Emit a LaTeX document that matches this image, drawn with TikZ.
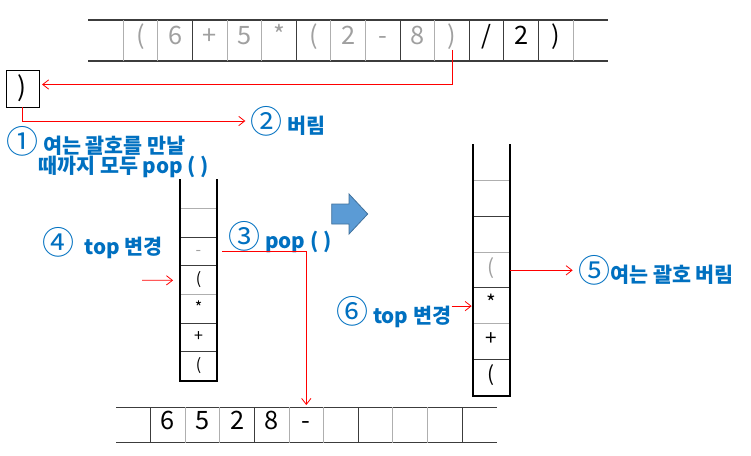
\documentclass[tikz,border=0pt]{standalone}
\usepackage{fontspec}
\setmainfont{Noto Sans CJK KR}
\usetikzlibrary{arrows.meta,positioning}
\definecolor{lblblue}{RGB}{0,112,192}
\definecolor{arrblue}{RGB}{91,155,213}
\definecolor{arredge}{RGB}{65,113,156}
\definecolor{usedtxt}{RGB}{160,160,160}
\definecolor{lgrid}{RGB}{175,175,175}
\definecolor{dgrid}{RGB}{60,60,60}
\newcommand{\cnum}[1]{{\mdseries\fontsize{24}{24}\selectfont #1}}

\begin{document}
\begin{tikzpicture}[x=0.75pt,y=-0.75pt]
  \tikzstyle{lbl}=[anchor=west,inner sep=0pt,text=lblblue,font=\bfseries\fontsize{15.5}{18}\selectfont]
  \tikzstyle{cell}=[minimum width=25.95pt,minimum height=30.75pt,inner sep=0pt,text height=0.72em,text depth=0.12em,font=\fontsize{19}{19}\selectfont]
  \tikzstyle{bcell}=[minimum width=25.95pt,minimum height=26.55pt,inner sep=0pt,text height=0.72em,text depth=0.12em,font=\fontsize{19}{19}\selectfont]
  \tikzstyle{lcell}=[minimum width=27.75pt,minimum height=21.5pt,inner sep=0pt,text height=0.72em,text depth=0.12em,font=\fontsize{12}{12}\selectfont]
  \tikzstyle{rcell}=[minimum width=27pt,minimum height=26.85pt,inner sep=0pt,text height=0.72em,text depth=0.12em,font=\fontsize{15.5}{15.5}\selectfont]
  \tikzstyle{redln}=[draw=red,line width=0.6pt]
  \tikzstyle{redarr}=[redln,-{Straight Barb[length=4.5pt,width=7pt]}]
  \tikzstyle{wall}=[line width=1.5pt,line cap=rect]
  \useasboundingbox (0,0) rectangle (751,455);

  % input expression
  \draw[dgrid,line width=0.8pt] (88,20) -- (608,20) (88,61) -- (608,61);
  \foreach \i/\gc in {0/lgrid,1/lgrid,2/dgrid,3/lgrid,4/lgrid,5/dgrid,6/lgrid,7/lgrid,8/dgrid,9/lgrid,10/dgrid,11/dgrid,12/dgrid,13/lgrid}
    \draw[\gc,line width=0.8pt] ({123.3+34.6*\i},20) -- ({123.3+34.6*\i},61);
  \foreach \c/\tc [count=\i from 0] in {{(}/usedtxt,6/usedtxt,+/usedtxt,5/usedtxt,*/usedtxt,{(}/usedtxt,2/usedtxt,-/usedtxt,8/usedtxt,{)}/usedtxt,{/}/black,2/black,{)}/black}
    \node[cell,text=\tc] (t\i) at ({140.6+34.6*\i},40.5) {\c};

  % the closing paren taken out
  \node[draw=black,line width=0.6pt,minimum width=24.75pt,minimum height=27.75pt,inner sep=0pt,font=\fontsize{20}{20}\selectfont] (pbox) at (22.5,88.5) {)};
  \draw[redarr,shorten >=2pt] ([yshift=-7pt]t9.center) |- ([yshift=3pt]pbox.east);

  \node[lbl] (lbl2) at (250,121) {\cnum{②} 버림};
  \draw[redarr,shorten >=3.5pt] (pbox.south) |- (lbl2.west);
  \node[lbl] (lbl1) at (6,141) {\cnum{①} 여는 괄호를 만날};
  \node[lbl] (lbl1b) at (38,167) {때까지 모두 pop ( )};

  % left stack
  \foreach \c/\tc [count=\k from 0] in {{}/black,{}/black,-/usedtxt,{(}/black,*/black,+/black,{(}/black}
    \node[lcell,text=\tc] (l\k) at (198.5,{180+28.67*(\k+0.5)}) {\c};
  \foreach \k/\gc in {1/lgrid,2/dgrid,3/dgrid,4/lgrid,5/dgrid,6/dgrid}
    \draw[\gc,line width=0.8pt] (l\k.north west) -- (l\k.north east);
  \draw[wall] (l0.north west) -- (l6.south west) -- (l6.south east) -- (l0.north east);

  \node[lbl] (lbl4) at (42,243) {\cnum{④}\hspace{4pt} top 변경};
  \coordinate (ltopin) at (142,280.3);
  \draw[redarr,shorten >=5pt] (ltopin) -- (l3.west);

  \node[lbl] (lbl3) at (228,237) {\cnum{③} pop ( )};

  % output
  \draw[dgrid,line width=0.8pt] (116,407.3) -- (496.7,407.3) (116,442.7) -- (496.7,442.7);
  \foreach \j/\gc in {0/dgrid,1/lgrid,2/lgrid,3/dgrid,4/lgrid,5/lgrid,6/dgrid,7/lgrid,8/lgrid,9/dgrid}
    \draw[\gc,line width=0.8pt] ({150.7+34.6*\j},407.3) -- ({150.7+34.6*\j},442.7);
  \foreach \c [count=\i from 0] in {{},6,5,2,8,-,{},{},{},{},{}}
    \node[bcell] (b\i) at ({133.3+34.6*\i},425) {\c};
  \draw[redarr,shorten >=1.5pt] ([xshift=3.75pt]l2.east) -| (b5.north);

  % block arrow
  \draw[arredge,fill=arrblue,line width=0.6pt] (331.7,204) -- (349,204) -- (349,194) -- (367.7,214)
    -- (349,234) -- (349,224) -- (331.7,224) -- cycle;

  % right stack
  \foreach \c/\tc [count=\k from 0] in {{}/black,{}/black,{}/black,{(}/usedtxt,*/black,+/black,{(}/black}
    \node[rcell,text=\tc] (r\k) at (491.3,{145+35.8*(\k+0.5)}) {\c};
  \foreach \k/\gc in {1/lgrid,2/dgrid,3/lgrid,4/dgrid,5/lgrid,6/dgrid}
    \draw[\gc,line width=0.8pt] (r\k.north west) -- (r\k.north east);
  \draw[wall] (r0.north west) -- (r6.south west) -- (r6.south east) -- (r0.north east);

  \node[lbl] (lbl5) at (578,270.3) {\cnum{⑤}여는 괄호 버림};
  \draw[redarr,shorten >=4pt] (r3.east) -- (lbl5.west);
  \node[lbl] (lbl6) at (336,312) {\cnum{⑥} top 변경};
  \draw[redarr,shorten >=1pt] (lbl6.east |- r4.west) -- (r4.west);
\end{tikzpicture}
\end{document}
